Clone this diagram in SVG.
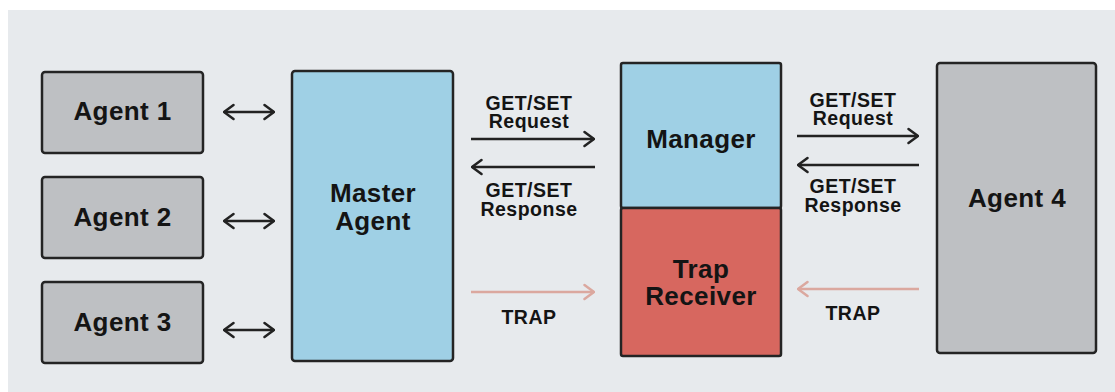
<svg xmlns="http://www.w3.org/2000/svg" width="1115" height="392" viewBox="0 0 1115 392">
<style>
.box{stroke:#242424;stroke-width:2.5}
.gray{fill:#bec0c3}
.blue{fill:#9fd0e5}
.red{fill:#d7675f}
.t{font-family:"Liberation Sans",Arial,sans-serif;font-weight:bold;fill:#141414;text-anchor:middle}
.n{font-size:26px;letter-spacing:0.4px}
.l{font-size:19.5px;letter-spacing:0.5px}
.c{fill:none;stroke:#222;stroke-width:2.5}
.p{fill:none;stroke:#dba89f;stroke-width:2.5}
</style>
<defs>
<marker id="ah" viewBox="0 0 12 18" refX="11" refY="9" markerWidth="12" markerHeight="18" markerUnits="userSpaceOnUse" orient="auto-start-reverse">
<path d="M1.5,2 L11,9 L1.5,16" fill="none" stroke="#222" stroke-width="2.5" stroke-linejoin="round" stroke-linecap="round"/>
</marker>
<marker id="ahp" viewBox="0 0 12 18" refX="11" refY="9" markerWidth="12" markerHeight="18" markerUnits="userSpaceOnUse" orient="auto-start-reverse">
<path d="M1.5,2 L11,9 L1.5,16" fill="none" stroke="#dba89f" stroke-width="2.5" stroke-linejoin="round" stroke-linecap="round"/>
</marker>
</defs>
<rect x="0" y="0" width="1115" height="392" fill="#ffffff"/>
<rect x="8" y="10" width="1107" height="382" fill="#e7eaed"/>

<g id="agent1">
<rect class="box gray" x="42" y="72" width="161" height="81" rx="3"/>
<text class="t n" x="122.5" y="120">Agent 1</text>
</g>
<g id="agent2">
<rect class="box gray" x="42" y="177" width="161" height="81" rx="3"/>
<text class="t n" x="122.5" y="226">Agent 2</text>
</g>
<g id="agent3">
<rect class="box gray" x="42" y="282" width="161" height="81" rx="3"/>
<text class="t n" x="122.5" y="331">Agent 3</text>
</g>
<g id="master-agent">
<rect class="box blue" x="292" y="71" width="161" height="290" rx="3"/>
<text class="t n" x="373" y="202">Master</text>
<text class="t n" x="373" y="230">Agent</text>
</g>
<g id="manager">
<rect class="box blue" x="621" y="63" width="160" height="145" rx="2"/>
<text class="t n" x="701" y="148">Manager</text>
</g>
<g id="trap-receiver">
<rect class="box red" x="621" y="208" width="160" height="148" rx="2"/>
<text class="t n" x="701" y="278">Trap</text>
<text class="t n" x="701" y="305">Receiver</text>
</g>
<g id="agent4">
<rect class="box gray" x="937" y="63" width="159" height="290" rx="3"/>
<text class="t n" x="1017" y="207">Agent 4</text>
</g>

<g id="connectors">
<line class="c" x1="224" y1="112" x2="274" y2="112" marker-start="url(#ah)" marker-end="url(#ah)"/>
<line class="c" x1="224" y1="221" x2="274" y2="221" marker-start="url(#ah)" marker-end="url(#ah)"/>
<line class="c" x1="224" y1="330" x2="274" y2="330" marker-start="url(#ah)" marker-end="url(#ah)"/>

<line class="c" x1="471" y1="139" x2="594" y2="139" marker-end="url(#ah)"/>
<line class="c" x1="595" y1="167" x2="472" y2="167" marker-end="url(#ah)"/>
<line class="p" x1="471" y1="292" x2="594" y2="292" marker-end="url(#ahp)"/>

<line class="c" x1="797" y1="136" x2="918" y2="136" marker-end="url(#ah)"/>
<line class="c" x1="919" y1="165" x2="798" y2="165" marker-end="url(#ah)"/>
<line class="p" x1="919" y1="289" x2="798" y2="289" marker-end="url(#ahp)"/>

<text class="t l" x="529" y="110">GET/SET</text>
<text class="t l" x="529" y="128">Request</text>
<text class="t l" x="529" y="197">GET/SET</text>
<text class="t l" x="529" y="216">Response</text>
<text class="t l" x="529" y="324">TRAP</text>

<text class="t l" x="853" y="107">GET/SET</text>
<text class="t l" x="853" y="125">Request</text>
<text class="t l" x="853" y="193">GET/SET</text>
<text class="t l" x="853" y="212">Response</text>
<text class="t l" x="853" y="320">TRAP</text>
</g>
</svg>
